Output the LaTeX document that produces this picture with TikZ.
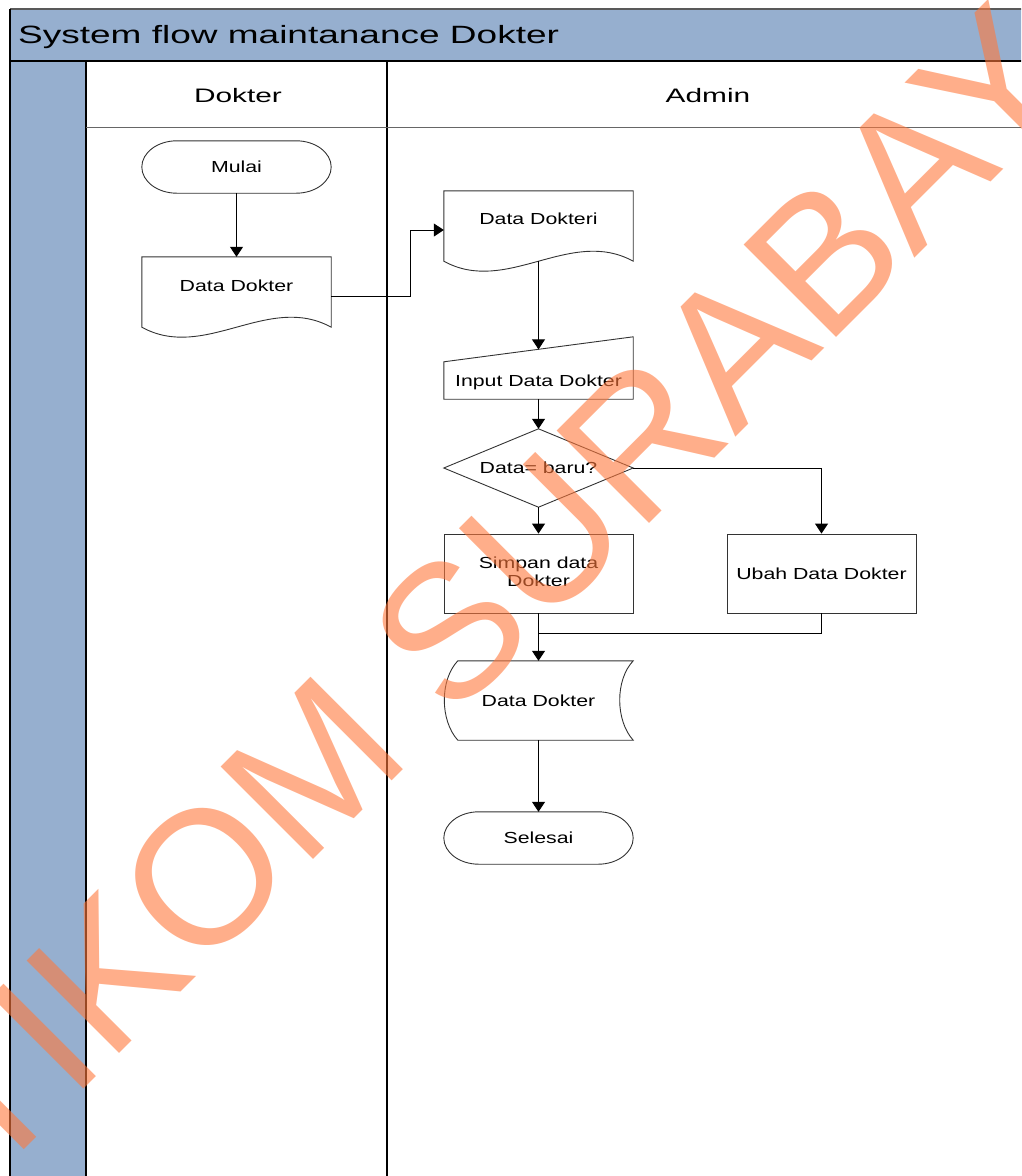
\documentclass[tikz,border=0pt]{standalone}
\usepackage{fontspec}
\usepackage{graphicx}
\setmainfont{Liberation Sans}
\usetikzlibrary{arrows.meta,calc}
\definecolor{laneblue}{RGB}{150,175,207}
\definecolor{wmorange}{RGB}{255,120,60}
\newcommand\bt[1]{\scalebox{1.33}[1]{#1}}
\newcommand\myterm[1]{%
  \draw[shp] ($(#1.north west)+(35,0)$) -- ($(#1.north east)+(-35,0)$)
    .. controls ($(#1.north east)+(-15.7,0)$) and ($(#1.east)+(0,-14.4)$) .. (#1.east)
    .. controls ($(#1.east)+(0,14.4)$) and ($(#1.south east)+(-15.7,0)$) .. ($(#1.south east)+(-35,0)$)
    -- ($(#1.south west)+(35,0)$)
    .. controls ($(#1.south west)+(15.7,0)$) and ($(#1.west)+(0,14.4)$) .. (#1.west)
    .. controls ($(#1.west)+(0,-14.4)$) and ($(#1.north west)+(15.7,0)$) .. cycle;}
\newcommand\mydoc[1]{%
  \draw[shp] (#1.north west) -- (#1.north east) -- (#1.south east)
    .. controls ($(#1.south east)+(-63,-34.6)$) and ($(#1.south west)+(63,34.6)$) .. (#1.south west) -- cycle;}
\begin{document}
\begin{tikzpicture}[x=1pt,y=-1pt,
  flow/.style={line width=1pt,draw=black},
  arr/.style={flow,-{Triangle[length=10pt,width=13pt]}},
  shp/.style={line width=0.9pt,draw=black!80},
  bfont/.style={font=\fontsize{16}{18}\selectfont},
  ghost/.style={draw=none,inner sep=0pt,minimum width=189pt,bfont},
  boxn/.style={draw=black!80,line width=0.9pt,inner sep=0pt,minimum width=189pt,minimum height=79pt,bfont},
  txt/.style={anchor=base,inner sep=0pt,bfont},
]
\useasboundingbox (0,0) rectangle (1021,1176);
\clip (0,0) rectangle (1021,1176);
% frame
\fill[laneblue] (10,9) rectangle (1040,61);
\fill[laneblue] (10,61) rectangle (86,1190);
\draw[line width=1.5pt,black!65] (10,9) -- (1040,9);
\draw[line width=1.5pt] (10,9) -- (10,1190);
\draw[line width=2pt] (10,61) -- (1040,61);
\draw[line width=1.5pt] (86,61) -- (86,1190);
\draw[line width=1.5pt] (387,61) -- (387,1190);
\draw[line width=1pt,black!60] (86,127) -- (1040,127);
\node[anchor=base west,inner sep=0pt] (title) at (18,43) {\fontsize{25}{30}\selectfont\scalebox{1.48}[1]{System flow maintanance Dokter}};
\node[anchor=base,inner sep=0pt] (hdok) at (238,102) {\fontsize{19.5}{22}\selectfont\scalebox{1.53}[1]{Dokter}};
\node[anchor=base,inner sep=0pt] (hadm) at (708,102) {\fontsize{19.5}{22}\selectfont\scalebox{1.53}[1]{Admin}};

% shapes
\node[ghost,minimum height=52pt] (mulai) at (236.5,167) {\bt{Mulai}};
\myterm{mulai}
\node[ghost,minimum height=70pt] (doc1) at (236.5,292) {};
\mydoc{doc1}
\node[txt] (doc1t) at (236.5,291.7) {\bt{Data Dokter}};
\node[ghost,minimum height=70pt] (doc2) at (538.5,226) {};
\mydoc{doc2}
\node[txt] (doc2t) at (538.5,224.7) {\bt{Data Dokteri}};
\node[ghost,minimum height=62pt] (inp) at (538.5,368) {};
\draw[shp] (inp.south west) -- (inp.south east) -- (inp.north east) -- ($(inp.north west)+(0,25)$) -- cycle;
\node[txt] (inpt) at (538.5,386.7) {\bt{Input Data Dokter}};
\node[ghost,minimum height=78pt] (dec) at (538.5,468) {\bt{Data= baru?}};
\draw[shp] (dec.west) -- (dec.north) -- (dec.east) -- (dec.south) -- cycle;
\node[boxn] (simpan) at (538.5,573.5) {\bt{\begin{tabular}{@{}c@{}}Simpan data\\Dokter\end{tabular}}};
\node[boxn] (ubah) at (821.5,573.5) {\bt{Ubah Data Dokter}};
\node[ghost,minimum height=79pt] (store) at (538.5,700.5) {\bt{Data Dokter}};
\draw[shp] ($(store.north west)+(14,0)$) -- (store.north east)
  .. controls ($(store.north east)+(-18,19)$) and ($(store.south east)+(-18,-20)$) .. (store.south east)
  -- ($(store.south west)+(14,0)$)
  .. controls ($(store.south west)+(-4,-20)$) and ($(store.north west)+(-4,19)$) .. cycle;
\node[ghost,minimum height=52pt] (selesai) at (538.5,838) {\bt{Selesai}};
\myterm{selesai}

% connectors
\coordinate (j1) at (410,296);
\coordinate (m) at (538.5,633);
\draw[arr] (mulai.south) -- (doc1.north);
\draw[arr] ([yshift=-4pt]doc1.east) -- (j1) |- ([yshift=-4pt]doc2.west);
\draw[arr] (doc2.south) -- ([yshift=-12.6pt]inp.north);
\draw[arr] (inp.south) -- (dec.north);
\draw[arr] (dec.south) -- (simpan.north);
\draw[arr] (dec.east) -| (ubah.north);
\draw[flow] (ubah.south) |- (m);
\draw[arr] (simpan.south) -- (store.north);
\draw[arr] (store.south) -- (selesai.north);

% watermark
\node[anchor=base west,rotate=45,inner sep=0pt,text=wmorange,opacity=0.6,text opacity=0.6] (wm) at (-100.6,1273.8) {\fontsize{190}{200}\selectfont STIKOM SURABAYA};
\end{tikzpicture}
\end{document}
